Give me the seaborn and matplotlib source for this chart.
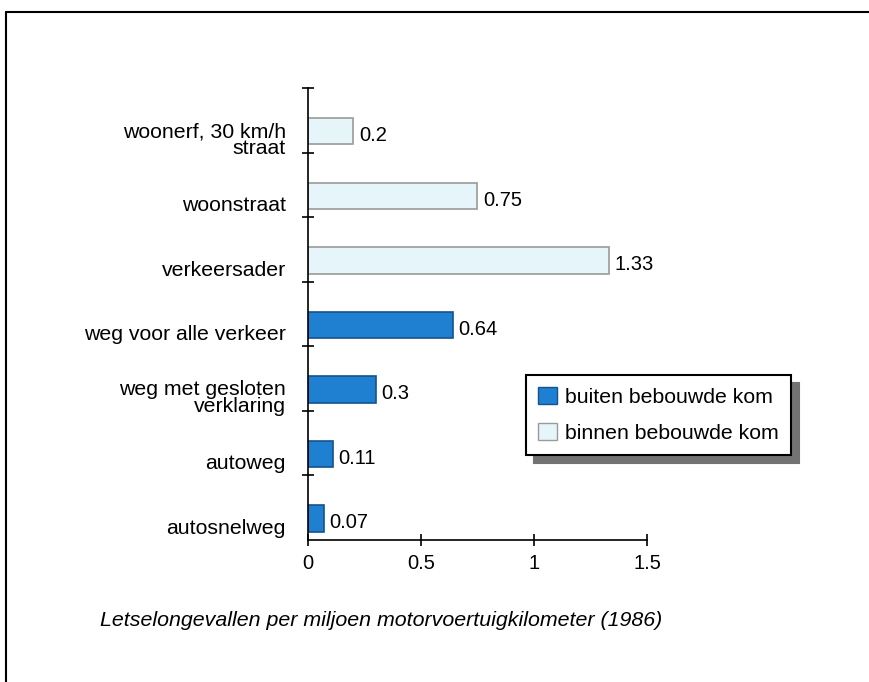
import numpy as np
import pandas as pd
import matplotlib
matplotlib.use("Agg")
import matplotlib.pyplot as plt
from matplotlib.patches import Patch
from matplotlib.lines import Line2D
import seaborn as sns

# Data
categories = ["woonerf, 30 km/h\nstraat", "woonstraat", "verkeersader",
              "weg voor alle verkeer", "weg met gesloten\nverklaring",
              "autoweg", "autosnelweg"]
values = [0.2, 0.75, 1.33, 0.64, 0.3, 0.11, 0.07]
groups = ["binnen bebouwde kom"] * 3 + ["buiten bebouwde kom"] * 4
x_ticks = [0, 0.5, 1, 1.5]
x_ticklabels = ["0", "0.5", "1", "1.5"]
caption = "Letselongevallen per miljoen motorvoertuigkilometer (1986)"

df = pd.DataFrame({"categorie": categories, "waarde": values, "groep": groups})

sns.set_style("white")
plt.rcParams["font.family"] = ["Liberation Sans", "DejaVu Sans"]
plt.rcParams["text.color"] = "black"
plt.rcParams["xtick.color"] = "black"
plt.rcParams["ytick.color"] = "black"

blue, blue_edge = "#1f7fd0", "#15528c"
light, light_edge = "#e6f5fa", "#9a9a9a"
palette = {"buiten bebouwde kom": blue, "binnen bebouwde kom": light}

fig = plt.figure(figsize=(8.7, 6.82), dpi=100)
ax = fig.add_axes([308 / 870, 1 - 540 / 682, (647 - 308) / 870, (540 - 88) / 682])

sns.barplot(data=df, x="waarde", y="categorie", hue="groep", dodge=False,
            palette=palette, saturation=1, width=0.41, orient="h",
            legend=False, ax=ax)

for p in ax.patches:
    fc = p.get_facecolor()
    is_blue = fc[2] < 0.9
    p.set_edgecolor(blue_edge if is_blue else light_edge)
    p.set_linewidth(1.2)

for cont in ax.containers:
    for t in ax.bar_label(cont, fmt="%g", padding=4, fontsize=14.5):
        t.set_position((4, -3))

ax.set_xlim(0, 1.5)
ax.set_ylim(6.33, -0.67)
ax.set_xticks(x_ticks, x_ticklabels, fontsize=14.5)
ax.set_yticks(np.arange(len(categories)) + 0.12, categories, fontsize=15.3,
              linespacing=0.85)
ax.set_yticks(np.arange(-1, len(categories) - 1) + 0.33, minor=True)
ax.tick_params(axis="y", which="major", left=True, length=0, pad=16)
ax.tick_params(axis="y", which="minor", left=True, length=8,
               direction="inout", width=1.2)
ax.tick_params(axis="x", bottom=True, length=8, direction="inout", width=1.2,
               pad=6)
ax.set_xlabel("")
ax.set_ylabel("")
for s in ["top", "right"]:
    ax.spines[s].set_visible(False)
for s in ["left", "bottom"]:
    ax.spines[s].set_color("black")
    ax.spines[s].set_linewidth(1.2)

fig.text(100 / 870, 1 - 620 / 682, caption, fontsize=15.4, style="italic",
         va="center", ha="left")

handles = [Patch(facecolor=blue, edgecolor=blue_edge, label="buiten bebouwde kom"),
           Patch(facecolor=light, edgecolor=light_edge, label="binnen bebouwde kom")]
leg = fig.legend(handles=handles, loc="upper left",
                 bbox_to_anchor=(526 / 870, 1 - 375 / 682), fontsize=15.3,
                 frameon=True, fancybox=False, borderpad=0.55,
                 handlelength=0.9, handleheight=0.9, handletextpad=0.4,
                 labelspacing=0.75, borderaxespad=0,
                 shadow={"ox": 6, "oy": -6, "color": "0.45", "alpha": 1})
leg.get_frame().set_edgecolor("black")
leg.get_frame().set_linewidth(1.5)

# outer frame of the scanned page
fig.add_artist(Line2D([6 / 870, 6 / 870], [0, 1 - 12 / 682], color="black",
                      lw=1.5, transform=fig.transFigure))
fig.add_artist(Line2D([6 / 870, 1], [1 - 12 / 682, 1 - 12 / 682], color="black",
                      lw=1.5, transform=fig.transFigure))

fig.savefig("out.png", dpi=100)
